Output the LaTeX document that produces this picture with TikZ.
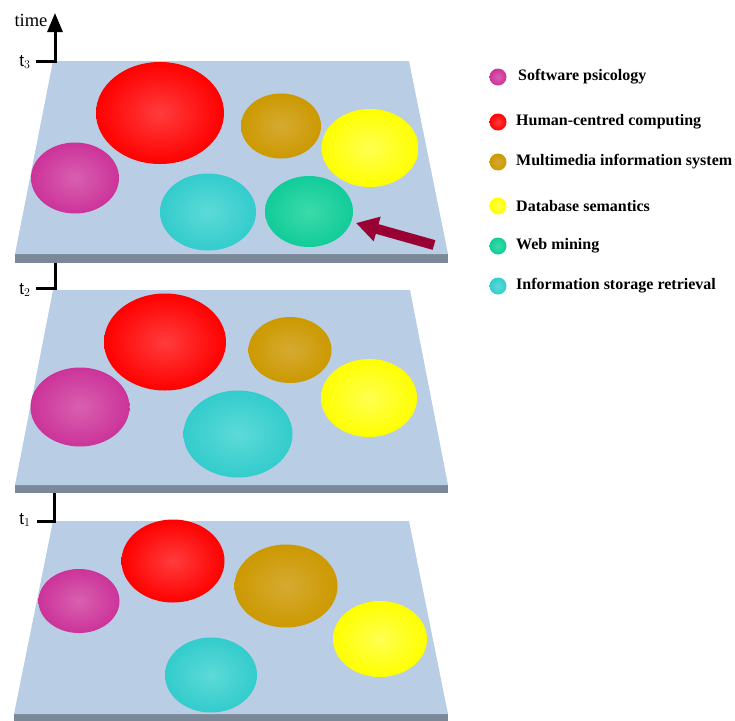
\documentclass[tikz,border=0pt]{standalone}
\usepackage{fontspec}
\setmainfont{Liberation Serif}
\newfontfamily\lsans{Liberation Sans}
\usetikzlibrary{shapes.geometric,arrows.meta}
\definecolor{slabface}{RGB}{185,205,228}
\definecolor{slabside}{RGB}{122,136,152}
\definecolor{cRed}{RGB}{255,0,0}\definecolor{cRedL}{RGB}{255,60,60}
\definecolor{cGold}{RGB}{204,153,0}\definecolor{cGoldL}{RGB}{214,170,50}
\definecolor{cYel}{RGB}{255,255,0}\definecolor{cYelL}{RGB}{255,255,80}
\definecolor{cMag}{RGB}{204,51,153}\definecolor{cMagL}{RGB}{216,96,176}
\definecolor{cCya}{RGB}{51,204,204}\definecolor{cCyaL}{RGB}{92,218,216}
\definecolor{cGrn}{RGB}{17,204,153}\definecolor{cGrnL}{RGB}{60,218,170}
\definecolor{arrowred}{RGB}{153,0,51}
\tikzset{
  blob/.style={ellipse,inner sep=0pt,draw=none,shading=radial},
  red/.style={blob,inner color=cRedL,outer color=cRed},
  gold/.style={blob,inner color=cGoldL,outer color=cGold},
  yel/.style={blob,inner color=cYelL,outer color=cYel},
  mag/.style={blob,inner color=cMagL,outer color=cMag},
  cya/.style={blob,inner color=cCyaL,outer color=cCya},
  grn/.style={blob,inner color=cGrnL,outer color=cGrn},
  sz/.style 2 args={minimum width=#1pt,minimum height=#2pt},
  face/.style={fill=slabface,draw=none},
  side/.style={fill=slabside,draw=none},
  axis/.style={line width=3pt,line join=miter,line cap=butt},
  legdot/.style={circle,inner sep=0pt,minimum size=17pt,shading=radial},
  legtext/.style={anchor=west,inner sep=0pt,font=\fontsize{16}{19}\selectfont\bfseries},
  tlab/.style={inner sep=0pt,font=\lsans\fontsize{17}{19}\selectfont},
}
\begin{document}
\begin{tikzpicture}[x=1pt,y=-1pt]
\useasboundingbox (0,0) rectangle (735,720);
% slabs
\fill[side] (15,254) rectangle (448,263);
\fill[face] (53,61) -- (409,61) -- (448,254) -- (15,254) -- cycle;
\fill[side] (15,485) rectangle (448,493);
\fill[face] (53,290) -- (410,290) -- (448,485) -- (15,485) -- cycle;
\fill[side] (14,714) rectangle (448,722);
\fill[face] (53,521) -- (409,521) -- (448,714) -- (14,714) -- cycle;
% slab t3
\node[red,sz={128}{102}] (r3) at (160,113) {};
\node[gold,sz={80}{65}] (g3) at (281,126) {};
\node[yel,sz={97}{78}] (y3) at (370,148) {};
\node[mag,sz={88}{71}] (m3) at (75,178) {};
\node[cya,sz={96}{77}] (c3) at (208,212) {};
\node[grn,sz={88}{71}] (w3) at (309,211.5) {};
% slab t2
\node[red,sz={122}{97}] (r2) at (165,342) {};
\node[gold,sz={83}{66}] (g2) at (290,350) {};
\node[mag,sz={99}{79}] (m2) at (80,407) {};
\node[yel,sz={96}{78}] (y2) at (369,398) {};
\node[cya,sz={109}{87}] (c2) at (238,434) {};
% slab t1
\node[red,sz={103}{83}] (r1) at (173,561) {};
\node[gold,sz={103}{83}] (g1) at (286,586) {};
\node[mag,sz={81}{64}] (m1) at (79,601) {};
\node[yel,sz={94}{76}] (y1) at (380,639) {};
\node[cya,sz={92}{75}] (c1) at (211,675) {};
% arrow to web mining
\coordinate (arrtail) at (434,245);
\coordinate (arrtip) at (356,223);
\draw[arrowred,line width=10pt,-{Triangle[width=24pt,length=22pt]}] (arrtail) -- (arrtip);
% time axis
\coordinate (tk3) at (36,61); \coordinate (tc3) at (55,61); \coordinate (ttop) at (55,13);
\draw[axis,-{Triangle[width=15pt,length=19pt]}] (tk3) -- (tc3) -- (ttop);
\coordinate (tk2) at (36,288); \coordinate (tc2) at (55,288); \coordinate (tu2) at (55,263);
\draw[axis] (tk2) -- (tc2) -- (tu2);
\coordinate (tk1) at (37,521); \coordinate (tc1) at (54,521); \coordinate (tu1) at (54,493);
\draw[axis] (tk1) -- (tc1) -- (tu1);
\node[inner sep=0pt,font=\fontsize{18.5}{21}\selectfont] (timelab) at (31,20) {time};
\node[tlab] (t3) at (25,62) {t$_3$};
\node[tlab] (t2) at (25,290) {t$_2$};
\node[tlab] (t1) at (25,520) {t$_1$};
% legend
\node[legdot,inner color=cMagL,outer color=cMag] (l1) at (498,77) {};
\node[legdot,inner color=cRedL,outer color=cRed] (l2) at (498,122) {};
\node[legdot,inner color=cGoldL,outer color=cGold] (l3) at (498,162) {};
\node[legdot,inner color=cYelL,outer color=cYel] (l4) at (498,206) {};
\node[legdot,inner color=cGrnL,outer color=cGrn] (l5) at (498,246) {};
\node[legdot,inner color=cCyaL,outer color=cCya] (l6) at (498,286) {};
\node[legtext] (lt1) at (518,77) {Software psicology};
\node[legtext] (lt2) at (516,122) {Human-centred computing};
\node[legtext] (lt3) at (516,162) {Multimedia information system};
\node[legtext] (lt4) at (516,206) {Database semantics};
\node[legtext] (lt5) at (516,246) {Web mining};
\node[legtext] (lt6) at (516,286) {Information storage retrieval};
\end{tikzpicture}
\end{document}
